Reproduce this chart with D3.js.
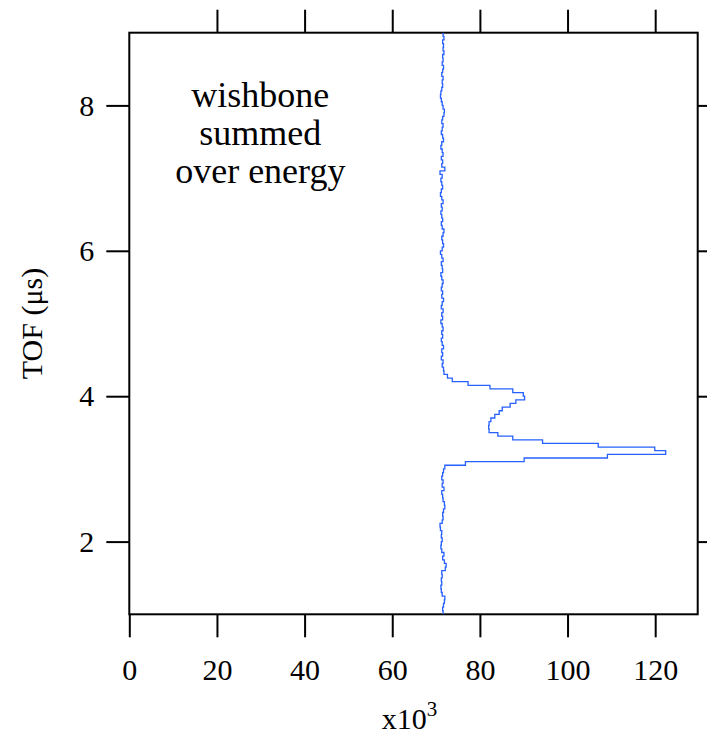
<!DOCTYPE html>
<html>
<head>
<meta charset="utf-8">
<script src="https://cdn.jsdelivr.net/npm/d3@7"></script>
<style>
  body { margin: 0; background: #fff; }
  svg { display: block; }
  text { font-family: "Liberation Serif", "Times New Roman", serif; fill: #000; }
</style>
</head>
<body>
<svg id="chart"></svg>
<script>
// chart data: counts per TOF bin (x10^3), bins 0.05 us wide starting at 1.0 us
const binStart = 1.0;
const binWidth = 0.05;
const counts = [
  // 1.00 - 3.00
  71.6, 71.5, 71.7, 71.9, 72.0, 71.4, 71.2, 71.1, 71.3, 71.2,
  71.4, 71.3, 72.1, 72.3, 71.9, 71.5, 71.8, 71.3, 71.1, 71.2,
  71.4, 71.2, 71.3, 71.0, 70.9, 71.4, 71.6, 71.5, 71.7, 72.0,
  71.9, 71.6, 71.5, 71.3, 71.8, 71.4, 71.6, 71.3, 71.5, 71.7,
  // 3.00 - 4.40 (peaks)
  72.0, 76.7, 90.1, 109.1, 122.4, 119.9, 107.0, 94.3, 87.5, 84.1,
  82.1, 82.0, 82.1, 82.5, 83.4, 84.4, 85.1, 86.9, 88.2, 90.2,
  89.9, 87.5, 82.3, 77.3, 73.7, 72.6, 71.8, 71.7,
  // 4.40 - 5.00
  71.4, 71.6, 71.2, 71.5, 71.3, 71.7, 71.4, 71.2, 71.5, 71.3, 71.6, 71.4,
  // 5.00 - 6.00
  71.1, 71.5, 71.3, 71.6, 71.2, 71.4, 71.7, 71.3, 71.5, 71.2,
  71.4, 71.6, 71.3, 71.1, 71.5, 71.4, 71.2, 71.6, 71.3, 71.0,
  // 6.00 - 7.00
  71.4, 71.7, 71.5, 71.3, 71.6, 71.8, 71.4, 71.2, 71.5, 71.3,
  71.1, 71.4, 71.2, 71.6, 71.3, 71.0, 71.2, 71.5, 71.3, 71.1,
  // 7.00 - 8.00
  71.4, 70.9, 72.0, 71.3, 71.5, 71.2, 71.6, 71.4, 71.1, 71.3,
  71.7, 71.5, 71.2, 71.4, 71.6, 71.3, 71.5, 71.8, 71.9, 71.6,
  // 8.00 - 9.00
  71.4, 71.2, 71.0, 71.1, 71.3, 71.5, 71.4, 71.6, 71.3, 71.5,
  71.7, 71.4, 71.6, 71.5, 71.8, 71.6, 71.7, 71.5, 71.8, 71.6
];
const xTicks = [0, 20, 40, 60, 80, 100, 120];
const yTicks = [2, 4, 6, 8];
const noteLines = ["wishbone", "summed", "over energy"];

// dimensions
const W = 707, H = 735;
const margin = { top: 32.7, right: 9.3, bottom: 120.7, left: 129.3 };
const w = W - margin.left - margin.right;
const h = H - margin.top - margin.bottom;
const tickLen = 23;

const svg = d3.select("#chart").attr("width", W).attr("height", H);
const chart = svg.append("g").attr("transform", `translate(${margin.left},${margin.top})`);

const xScale = d3.scaleLinear().domain([0, 129.7]).range([0, w]);
const yScale = d3.scaleLinear().domain([1, 9]).range([h, 0]);

// axes (ticks outward on all four sides)
const styleAxis = (g) => {
  g.select(".domain").remove();
  g.selectAll(".tick line").attr("stroke", "#000").attr("stroke-width", 2);
  g.selectAll(".tick text").attr("font-size", 30).attr("font-family", "Liberation Serif, serif");
};
chart.append("g")
  .attr("transform", `translate(0,${h})`)
  .call(d3.axisBottom(xScale).tickValues(xTicks).tickSizeInner(tickLen).tickSizeOuter(0).tickPadding(21))
  .call(styleAxis);
chart.append("g")
  .call(d3.axisTop(xScale).tickValues(xTicks.filter(d => d > 0)).tickSizeInner(tickLen).tickSizeOuter(0).tickFormat(""))
  .call(styleAxis);
chart.append("g")
  .call(d3.axisLeft(yScale).tickValues(yTicks).tickSizeInner(tickLen).tickSizeOuter(0).tickPadding(12))
  .call(styleAxis);
chart.append("g")
  .attr("transform", `translate(${w},0)`)
  .call(d3.axisRight(yScale).tickValues(yTicks).tickSizeInner(tickLen).tickSizeOuter(0).tickFormat(""))
  .call(styleAxis);

// frame
chart.append("rect")
  .attr("width", w).attr("height", h)
  .attr("fill", "none").attr("stroke", "#000").attr("stroke-width", 2);

// histogram as vertical step line
const pts = [];
counts.forEach((v, i) => {
  pts.push({ t: binStart + i * binWidth, v: v });
  pts.push({ t: binStart + (i + 1) * binWidth, v: v });
});
const line = d3.line().x(d => xScale(d.v)).y(d => yScale(d.t));
chart.append("path")
  .datum(pts)
  .attr("d", line)
  .attr("fill", "none")
  .attr("stroke", "#2660ff")
  .attr("stroke-width", 1.3);

// annotation
const note = chart.append("text")
  .attr("text-anchor", "middle")
  .attr("font-size", 36);
noteLines.forEach((s, i) => {
  note.append("tspan")
    .attr("x", 131)
    .attr("y", 74 + i * 38)
    .text(s);
});

// axis titles
const xt = svg.append("text")
  .attr("x", margin.left + w / 2 - 4)
  .attr("y", 729)
  .attr("text-anchor", "middle")
  .attr("font-size", 30);
xt.append("tspan").text("x10");
xt.append("tspan").attr("font-size", 21).attr("dy", -13).text("3");

svg.append("text")
  .attr("transform", `translate(42,${margin.top + h / 2}) rotate(-90)`)
  .attr("text-anchor", "middle")
  .attr("font-size", 30)
  .text("TOF (\u03bcs)");
</script>
</body>
</html>
